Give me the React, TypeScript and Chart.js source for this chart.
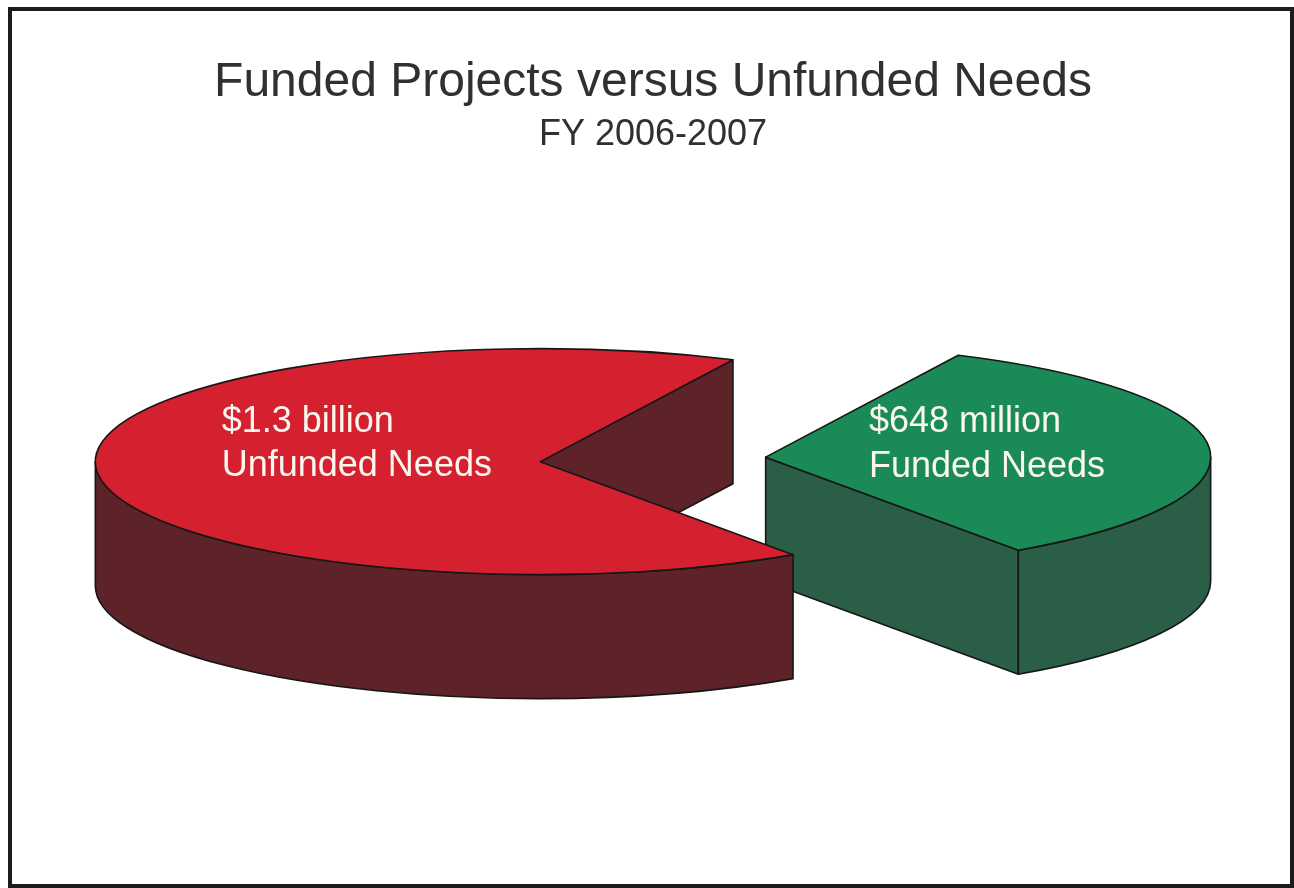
import React, { useEffect, useRef } from 'react';
import { Chart, registerables } from 'chart.js';

Chart.register(...registerables);

// ---- data ----
const titleText = 'Funded Projects versus Unfunded Needs';
const subtitleText = 'FY 2006-2007';
const categories = ['Unfunded Needs', 'Funded Needs'];
const amountsMillions = [1300, 648];
const amountLabels = ['$1.3 billion', '$648 million'];
const needLabels = ['Unfunded Needs', 'Funded Needs'];

// ---- style ----
const topColors = ['#d4202f', '#1a8b57'];
const sideColors = ['#5e2329', '#2a5e47'];
const RADIUS = 200; // library radius (circle units)
const RX = 445; // projected horizontal semi-axis
const RY = 113; // projected vertical semi-axis
const DEPTH = 124; // extrusion height
const EXPLODE = 113 / (RX / RADIUS);
const LABEL_ANCHORS = [
  [-0.716, -0.265],
  [0.232, -0.22],
];
const FONT = '"Liberation Sans", Arial, Helvetica, sans-serif';

type Slice = {
  i: number;
  cx: number;
  cy: number;
  rx: number;
  ry: number;
  s: number;
  e: number;
  mid: number;
};

function drawSlice(ctx: CanvasRenderingContext2D, sl: Slice) {
  const { cx, cy, rx, ry, s, e, i } = sl;
  const pt = (a: number, dy = 0) => [cx + rx * Math.cos(a), cy + ry * Math.sin(a) + dy];

  // radial faces
  const faces: number[] = [];
  if (Math.cos(s) < 0) faces.push(s);
  if (Math.cos(e) > 0) faces.push(e);
  for (const a of faces) {
    const [x1, y1] = pt(a);
    ctx.beginPath();
    ctx.moveTo(cx, cy);
    ctx.lineTo(x1, y1);
    ctx.lineTo(x1, y1 + DEPTH);
    ctx.lineTo(cx, cy + DEPTH);
    ctx.closePath();
    ctx.fillStyle = sideColors[i];
    ctx.fill();
    ctx.stroke();
  }

  // outer wall (front half only)
  for (let k = -2; k <= 2; k++) {
    const lo = Math.max(s, 2 * Math.PI * k);
    const hi = Math.min(e, 2 * Math.PI * k + Math.PI);
    if (hi <= lo) continue;
    const [xh, yh] = pt(hi);
    ctx.beginPath();
    ctx.ellipse(cx, cy, rx, ry, 0, lo, hi, false);
    ctx.lineTo(xh, yh + DEPTH);
    ctx.ellipse(cx, cy + DEPTH, rx, ry, 0, hi, lo, true);
    ctx.closePath();
    ctx.fillStyle = sideColors[i];
    ctx.fill();
    ctx.stroke();
  }

  // top
  ctx.beginPath();
  ctx.moveTo(cx, cy);
  ctx.ellipse(cx, cy, rx, ry, 0, s, e, false);
  ctx.closePath();
  ctx.fillStyle = topColors[i];
  ctx.fill();
  ctx.stroke();
}

const pie3d = {
  id: 'pie3d',
  beforeDatasetDraw(chart: any) {
    const ctx: CanvasRenderingContext2D = chart.ctx;
    const meta = chart.getDatasetMeta(0);
    const slices: Slice[] = meta.data.map((arc: any, i: number) => {
      const p = arc.getProps(['x', 'y', 'startAngle', 'endAngle', 'outerRadius'], true);
      const kx = RX / p.outerRadius;
      const ky = RY / p.outerRadius;
      const off = arc.options.offset || 0;
      const mid = (p.startAngle + p.endAngle) / 2;
      return {
        i,
        cx: p.x + Math.cos(mid) * off * kx,
        cy: p.y + Math.sin(mid) * off * ky,
        rx: p.outerRadius * kx,
        ry: p.outerRadius * ky,
        s: p.startAngle,
        e: p.endAngle,
        mid,
      };
    });
    const order = [...slices].sort((a, b) => Math.sin(a.mid) - Math.sin(b.mid));
    ctx.save();
    ctx.lineJoin = 'round';
    ctx.lineWidth = 1.6;
    ctx.strokeStyle = '#161616';
    for (const sl of order) drawSlice(ctx, sl);

    ctx.fillStyle = '#fbf7ee';
    ctx.font = `36px ${FONT}`;
    ctx.textAlign = 'left';
    ctx.textBaseline = 'alphabetic';
    for (const sl of slices) {
      const [ax, ay] = LABEL_ANCHORS[sl.i];
      const x = sl.cx + ax * sl.rx;
      const y = sl.cy + ay * sl.ry;
      ctx.fillText(amountLabels[sl.i], x, y);
      ctx.fillText(needLabels[sl.i], x, y + 44.5);
    }
    ctx.restore();
    return false;
  },
};

export default function App() {
  const ref = useRef<HTMLCanvasElement | null>(null);
  useEffect(() => {
    if (!ref.current) return;
    const chart = new Chart(ref.current, {
      type: 'pie',
      data: {
        labels: categories,
        datasets: [
          {
            data: amountsMillions,
            backgroundColor: topColors,
            offset: EXPLODE,
            borderWidth: 0,
          },
        ],
      },
      options: {
        responsive: false,
        animation: false,
        devicePixelRatio: 1,
        radius: RADIUS,
        rotation: 145.4,
        layout: { padding: { left: 12, right: 0, top: 0, bottom: 126 } },
        events: [],
        plugins: {
          legend: { display: false },
          tooltip: { enabled: false },
          title: {
            display: true,
            text: titleText,
            color: '#303030',
            font: { family: FONT, size: 48, weight: 'normal' },
            padding: { top: 54, bottom: 0 },
          },
          subtitle: {
            display: true,
            text: subtitleText,
            color: '#303030',
            font: { family: FONT, size: 36, weight: 'normal' },
            padding: { top: 2, bottom: 0 },
          },
        },
      } as any,
      plugins: [pie3d as any],
    });
    return () => chart.destroy();
  }, []);

  return (
    <div style={{ position: 'fixed', left: 0, top: 0, width: 1294, height: 888, background: '#fff' }}>
      <canvas ref={ref} width={1294} height={888} style={{ position: 'absolute', left: 0, top: 0 }} />
      <div
        style={{
          position: 'absolute',
          left: 8,
          top: 7,
          width: 1286,
          height: 881,
          border: '4px solid #1c1c1c',
          boxSizing: 'border-box',
          pointerEvents: 'none',
        }}
      />
    </div>
  );
}
